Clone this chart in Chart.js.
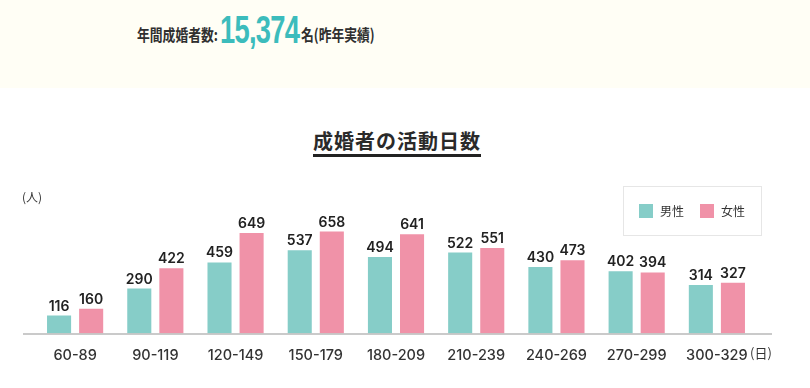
<!DOCTYPE html>
<html lang="ja">
<head>
<meta charset="utf-8">
<script src="https://cdn.jsdelivr.net/npm/chart.js@4"></script>
<style>
  body { margin: 0; width: 810px; height: 388px; background: #fff; overflow: hidden; position: relative;
         font-family: "Noto Sans CJK JP", sans-serif; color: #2f2f2f; }
  .top { position: absolute; left: 0; top: 0; width: 810px; height: 88px; background: #fffef5; }
  .top span { position: absolute; white-space: nowrap; transform-origin: left top; }
  .top .lead { left: 137px; top: 22px; font-size: 16px; font-weight: 700; transform: scaleX(0.8); }
  .top .num { left: 220px; top: 10px; font-family: "Liberation Sans", sans-serif; line-height: 1;
              font-size: 39px; font-weight: 700; color: #3cbcbc; letter-spacing: -1px; transform: scaleX(0.7); }
  .top .tail { left: 301px; top: 22px; font-size: 16px; font-weight: 700; transform: scaleX(0.8); }
  h2 { position: absolute; left: 313px; top: 128px; margin: 0; font-size: 20px; font-weight: 700; letter-spacing: 1px;
       color: #2a2a2a; line-height: 26px; border-bottom: 3px solid #222; padding-bottom: 0; }
  #chart { position: absolute; left: 0; top: 160px; }
</style>
</head>
<body>
<div class="top">
  <span class="lead">年間成婚者数:</span>
  <span class="num">15,374</span>
  <span class="tail">名(昨年実績)</span>
</div>
<h2>成婚者の活動日数</h2>
<canvas id="chart" width="810" height="228"></canvas>
<script>
const categories = ['60-89', '90-119', '120-149', '150-179', '180-209', '210-239', '240-269', '270-299', '300-329'];
const men = [116, 290, 459, 537, 494, 522, 430, 402, 314];
const women = [160, 422, 649, 658, 641, 551, 473, 394, 327];
const seriesNames = ['男性', '女性'];
const seriesColors = ['#86cdc8', '#f092a8'];

const numFont = '"Inter", "Lato", sans-serif';

const extras = {
    id: 'extras',
    afterDatasetsDraw(chart) {
        const ctx = chart.ctx;
        const base = chart.scales.y.getPixelForValue(0);
        ctx.save();
        // axis line
        ctx.strokeStyle = '#b8b8b8';
        ctx.lineWidth = 1.5;
        ctx.beginPath();
        ctx.moveTo(23, base + 0.5);
        ctx.lineTo(772, base + 0.5);
        ctx.stroke();

        // values over bars
        ctx.fillStyle = '#222';
        ctx.font = '600 14px ' + numFont;
        ctx.textAlign = 'center';
        ctx.textBaseline = 'alphabetic';
        chart.data.datasets.forEach((ds, i) => {
            chart.getDatasetMeta(i).data.forEach((bar, j) => {
                ctx.fillText(ds.data[j], bar.x, bar.y - 5);
            });
        });

        // units
        ctx.font = '12px "Noto Sans CJK JP"';
        ctx.fillStyle = '#333';
        ctx.textAlign = 'left';
        ctx.textBaseline = 'middle';
        ctx.fillText('(人)', 22, 37);
        ctx.font = '13px "Noto Sans CJK JP"';
        ctx.fillText('(日)', 750, base + 19);

        // legend box
        ctx.fillStyle = '#fff';
        ctx.fillRect(623.5, 26.5, 138, 49);
        ctx.strokeStyle = '#e6e6e6';
        ctx.lineWidth = 1;
        ctx.strokeRect(623.5, 26.5, 138, 49);
        ctx.font = '12px "Noto Sans CJK JP"';
        const lx = [639, 700];
        chart.data.datasets.forEach((ds, i) => {
            ctx.fillStyle = ds.backgroundColor;
            ctx.fillRect(lx[i], 44, 14, 14);
            ctx.fillStyle = '#333';
            ctx.fillText(ds.label, lx[i] + 21, 51);
        });
        ctx.restore();
    }
};

new Chart(document.getElementById('chart'), {
    type: 'bar',
    data: {
        labels: categories,
        datasets: [{
            label: seriesNames[0],
            data: men,
            backgroundColor: seriesColors[0]
        }, {
            label: seriesNames[1],
            data: women,
            backgroundColor: seriesColors[1]
        }]
    },
    options: {
        responsive: false,
        animation: false,
        datasets: { bar: { barPercentage: 0.75, categoryPercentage: 0.8 } },
        layout: { padding: { top: 65, left: 35, right: 53, bottom: 19 } },
        plugins: {
            legend: { display: false },
            tooltip: { enabled: false }
        },
        scales: {
            x: {
                grid: { display: false },
                border: { display: false },
                ticks: { color: '#333', padding: 5, font: { family: numFont, size: 14.5, weight: 500 } }
            },
            y: {
                display: false,
                min: 0,
                max: 700
            }
        }
    },
    plugins: [extras]
});
</script>
</body>
</html>
